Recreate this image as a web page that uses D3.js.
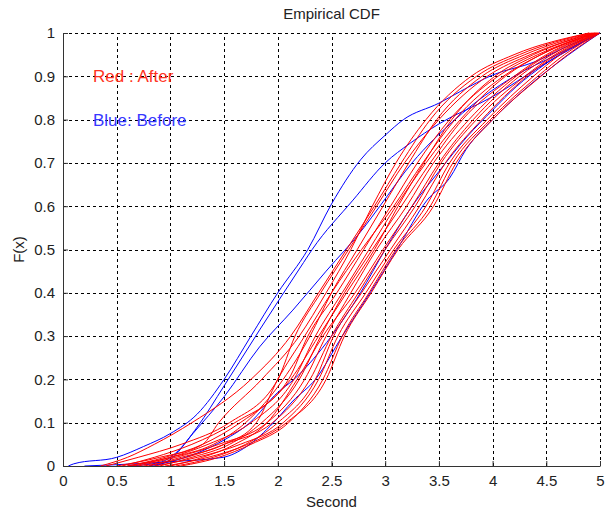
<!DOCTYPE html>
<html>
<head>
<meta charset="utf-8">
<script src="https://cdn.jsdelivr.net/npm/d3@7"></script>
<style>
  body{margin:0;background:#fff;}
  text{font-family:"Liberation Sans",Arial,sans-serif;}
</style>
</head>
<body>
<div id="chart"></div>
<script>
const redLevels=[0,0.02,0.05,0.1,0.2,0.3,0.4,0.5,0.6,0.7,0.8,0.9,0.95,1];

const redCurves=[
  [0.35,0.6,0.85,1.2,1.75,2.12,2.38,2.64,2.9,3.15,3.42,3.85,4.25,4.9],
  [0.5,0.9,1.3,1.45,1.85,2.2,2.45,2.68,2.88,3.1,3.38,3.8,4.2,4.9],
  [0.4,0.7,1.1,1.55,2.0,2.16,2.4,2.66,2.92,3.18,3.5,3.95,4.35,4.93],
  [0.6,1.0,1.4,1.7,2.05,2.3,2.5,2.74,2.98,3.22,3.48,3.9,4.3,4.92],
  [0.55,0.85,1.2,1.6,2.1,2.28,2.55,2.8,3.05,3.3,3.6,4.05,4.42,4.95],
  [0.8,1.1,1.5,1.8,2.0,2.25,2.5,2.78,3.08,3.35,3.65,4.1,4.45,4.95],
  [0.65,1.0,1.35,1.75,2.15,2.35,2.6,2.85,3.1,3.38,3.7,4.12,4.45,4.96],
  [0.9,1.2,1.55,1.85,2.2,2.4,2.62,2.88,3.15,3.42,3.72,4.2,4.5,4.96],
  [0.7,1.05,1.45,1.9,2.25,2.45,2.68,2.92,3.2,3.45,3.78,4.22,4.52,4.97],
  [1.0,1.3,1.6,1.9,2.18,2.42,2.72,2.98,3.25,3.5,3.82,4.25,4.55,4.97],
  [0.75,1.15,1.5,1.95,2.3,2.5,2.75,3.0,3.28,3.52,3.85,4.3,4.58,4.98],
  [1.05,1.4,1.7,2.0,2.35,2.52,2.78,3.05,3.32,3.56,3.9,4.32,4.6,4.98],
  [0.85,1.25,1.65,2.05,2.38,2.56,2.82,3.08,3.38,3.6,3.95,4.38,4.63,4.99],
  [1.1,1.45,1.75,2.1,2.42,2.6,2.85,3.1,3.42,3.63,3.98,4.42,4.67,4.99],
  [0.95,1.35,1.72,2.08,2.45,2.62,2.87,3.12,3.45,3.66,4.0,4.45,4.7,5.0],
  [0.6,0.95,1.3,1.65,2.12,2.38,2.64,2.9,3.12,3.36,3.62,4.02,4.38,4.94]
];

// blue curves as [x, F] pairs
const blueCurves=[
  [[0.05,0],[0.1,0.005],[0.5,0.02],[0.75,0.045],[1.0,0.075],[1.25,0.12],[1.5,0.2],[1.75,0.3],[2.0,0.40],[2.28,0.5],[2.5,0.605],[2.77,0.707],[3.0,0.764],[3.17,0.8],[3.5,0.838],[3.7,0.865],[4.0,0.903],[4.4,0.934],[4.7,0.97],[5,1]],
  [[0.6,0],[0.9,0.008],[1.05,0.03],[1.25,0.09],[1.5,0.185],[1.83,0.314],[2.24,0.47],[2.32,0.5],[2.7,0.614],[3.0,0.70],[3.23,0.745],[3.5,0.79],[4.0,0.853],[4.44,0.922],[5,1]],
  [[0.85,0],[1.0,0.015],[1.21,0.075],[1.5,0.16],[1.83,0.275],[2.14,0.36],[2.45,0.45],[2.8,0.55],[2.95,0.6],[3.25,0.7],[3.65,0.8],[4.2,0.9],[4.6,0.95],[5,1]],
  [[0.8,0],[1.0,0.01],[1.25,0.03],[1.5,0.06],[1.74,0.1],[2.0,0.17],[2.15,0.2],[2.5,0.3],[2.77,0.4],[3.0,0.5],[3.25,0.6],[3.5,0.68],[3.76,0.76],[4.0,0.822],[4.22,0.876],[4.5,0.93],[5,1]],
  [[0.2,0],[0.5,0.003],[1.0,0.01],[1.49,0.02],[1.71,0.045],[1.96,0.1],[2.14,0.15],[2.35,0.2],[2.6,0.3],[2.86,0.4],[3.11,0.5],[3.39,0.614],[3.6,0.665],[3.75,0.73],[4.0,0.8],[4.3,0.87],[4.6,0.93],[5,1]]
];

const xTicks=[0,0.5,1,1.5,2,2.5,3,3.5,4,4.5,5];
const yTicks=[0,0.1,0.2,0.3,0.4,0.5,0.6,0.7,0.8,0.9,1];

const width=610, height=514;
const margin={top:33,right:10,bottom:48,left:63};

const svg=d3.select('#chart')
  .append('svg')
    .attr('width',width)
    .attr('height',height);

const x=d3.scaleLinear().domain([0,5]).range([margin.left,width-margin.right]);
const y=d3.scaleLinear().domain([0,1]).range([height-margin.bottom,margin.top]);

// dashed grid, snapped to pixels so it stays crisp
const px=v=>Math.round(v)+0.5;
svg.append('g').selectAll('line').data(xTicks.slice(1)).enter()
  .append('line')
    .attr('x1',d=>px(x(d))).attr('x2',d=>px(x(d)))
    .attr('y1',y(0)).attr('y2',y(1))
    .attr('stroke','#000').attr('stroke-dasharray','3,3');
svg.append('g').selectAll('line').data(yTicks.slice(1)).enter()
  .append('line')
    .attr('x1',x(0)).attr('x2',x(5))
    .attr('y1',d=>px(y(d))).attr('y2',d=>px(y(d)))
    .attr('stroke','#000').attr('stroke-dasharray','3,3');

const line=d3.line().x(d=>x(d[0])).y(d=>y(d[1])).curve(d3.curveMonotoneX);

svg.append('g').selectAll('path').data(blueCurves).enter()
  .append('path')
    .attr('d',line)
    .attr('fill','none')
    .attr('stroke','#0000ff')
    .attr('stroke-width',1);

svg.append('g').selectAll('path').data(redCurves).enter()
  .append('path')
    .attr('d',c=>line(c.map((v,i)=>[v,redLevels[i]])))
    .attr('fill','none')
    .attr('stroke','#ff0000')
    .attr('stroke-width',1);

// axes, ticks pointing inward like matlab
const xAxis=svg.append('g')
  .attr('transform',`translate(0,${y(0)})`)
  .call(d3.axisBottom(x).tickValues(xTicks).tickSizeInner(-5).tickSizeOuter(0).tickPadding(9).tickFormat(d3.format('')));
const yAxis=svg.append('g')
  .attr('transform',`translate(${x(0)},0)`)
  .call(d3.axisLeft(y).tickValues(yTicks).tickSizeInner(-5).tickSizeOuter(0).tickPadding(8).tickFormat(d3.format('')));
[xAxis,yAxis].forEach(a=>{
  a.selectAll('text').attr('font-size',15).attr('fill','#222').style('font-family','"Liberation Sans",Arial,sans-serif');
  a.select('.domain').attr('stroke','#333');
  a.selectAll('.tick line').attr('stroke','#333');
});

svg.append('text')
  .attr('x',(x(0)+x(5))/2).attr('y',19)
  .attr('text-anchor','middle').attr('font-size',15).attr('fill','#222')
  .text('Empirical CDF');
svg.append('text')
  .attr('x',(x(0)+x(5))/2).attr('y',507)
  .attr('text-anchor','middle').attr('font-size',15).attr('fill','#222')
  .text('Second');
svg.append('text')
  .attr('transform',`translate(24,${(y(0)+y(1))/2}) rotate(-90)`)
  .attr('text-anchor','middle').attr('font-size',15).attr('fill','#222')
  .text('F(x)');

// in-plot labels
svg.append('text')
  .attr('x',93).attr('y',82)
  .attr('font-size',17).attr('fill','#ff3322')
  .text('Red : After');
svg.append('text')
  .attr('x',93).attr('y',126)
  .attr('font-size',17).attr('fill','#3838ff')
  .text('Blue: Before');
</script>
</body>
</html>
